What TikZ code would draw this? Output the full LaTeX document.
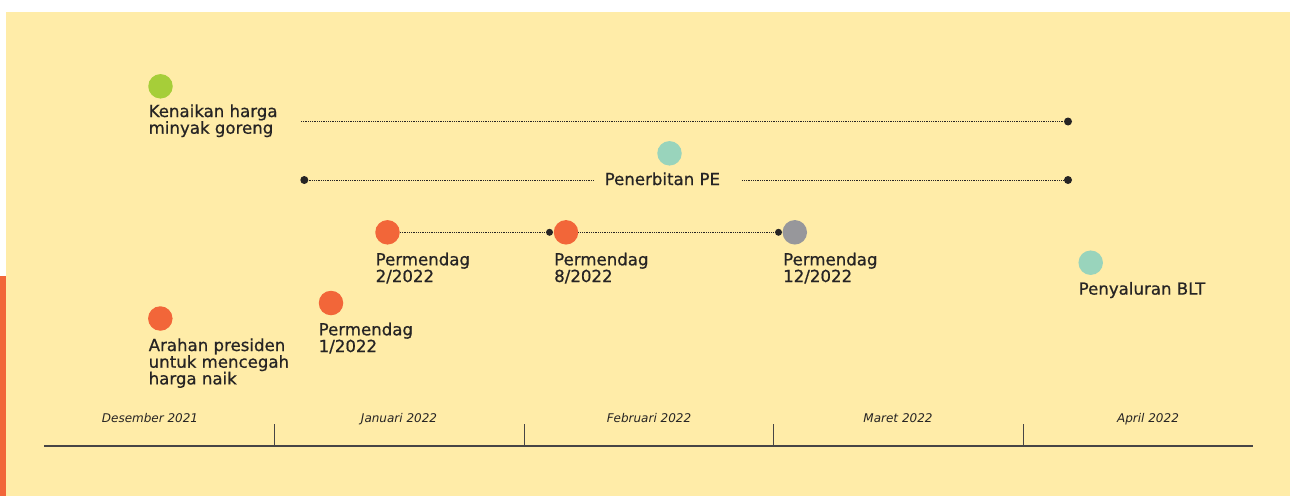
\documentclass[tikz,border=0pt]{standalone}
\usepackage{fontspec}
\setmainfont{DejaVu Sans}
\newfontfamily\medfont[FakeBold=0.7]{DejaVu Sans}
\definecolor{bgyellow}{RGB}{255,236,168}
\definecolor{accorange}{RGB}{242,102,57}
\definecolor{accgreen}{RGB}{166,206,57}
\definecolor{accteal}{RGB}{153,212,188}
\definecolor{accgrey}{RGB}{151,151,155}
\definecolor{ink}{RGB}{38,36,36}
\begin{document}
\begin{tikzpicture}[x=1pt,y=-1pt,
  evdot/.style={circle, fill=#1, minimum size=24.5pt, inner sep=0pt},
  endpt/.style={circle, fill=ink, minimum size=#1, inner sep=0pt},
  endpt/.default=8pt,
  lbl/.style={anchor=north west, inner sep=0pt, align=left, text=ink,
              font=\medfont\fontsize{16.6}{16.7}\selectfont},
  month/.style={anchor=base, inner sep=0pt, text=ink,
              font=\fontsize{12}{14}\selectfont\itshape},
  conn/.style={draw=ink, line width=0.8pt, dash pattern=on 0.9pt off 0.9pt},
  axis/.style={draw=ink!85, line width=1.1pt}]
\useasboundingbox (0,0) rectangle (1290,496);
\fill[white] (0,0) rectangle (1290,496);
\fill[bgyellow] (6,12) rectangle (1290,496);
\fill[accorange] (0,276) rectangle (6,496);

% events
\node[evdot=accgreen] (kg) at (160.5,86.3) {};
\node[lbl] (kgt) at (148.5,104.2) {Kenaikan harga\\minyak goreng};

\node[evdot=accteal] (pe) at (669.5,153.3) {};
\node[anchor=base west, inner sep=0pt, text=ink, font=\medfont\fontsize{16.6}{16.7}\selectfont] (pet) at (604.5,185) {Penerbitan PE};

\node[evdot=accorange] (p2) at (387.5,232.3) {};
\node[lbl] (p2t) at (375.5,252.5) {Permendag\\2/2022};
\node[evdot=accorange] (p8) at (566,232.3) {};
\node[lbl] (p8t) at (554,252.5) {Permendag\\8/2022};
\node[evdot=accgrey] (p12) at (794.8,232.3) {};
\node[lbl] (p12t) at (783,252.5) {Permendag\\12/2022};

\node[evdot=accteal] (blt) at (1090.7,262.7) {};
\node[lbl] (bltt) at (1078.5,281.8) {Penyaluran BLT};

\node[evdot=accorange] (p1) at (331,303) {};
\node[lbl] (p1t) at (318.5,322.5) {Permendag\\1/2022};

\node[evdot=accorange] (ap) at (160.3,318.5) {};
\node[lbl] (apt) at (148.5,338.2) {Arahan presiden\\untuk mencegah\\harga naik};

% range lines
\coordinate (l1s) at (301,121.5);
\node[endpt] (l1e) at (1068,121.5) {};
\draw[conn] (l1s) -- (l1e);

\node[endpt] (l2s) at (304.3,180) {};
\node[endpt] (l2e) at (1068,180) {};
\draw[conn] (l2s) -- ([xshift=-10pt]pet.west |- l2s);
\draw[conn] ([xshift=22pt]pet.east |- l2e) -- (l2e);

\node[endpt=7pt] (s1) at (549.5,232.3) {};
\node[endpt=7pt] (s2) at (778.5,232.3) {};
\draw[conn] (p2) -- (s1);
\draw[conn] (p8) -- (s2);

% time axis
\coordinate (ax0) at (44,446);
\coordinate (ax1) at (1253,446);
\draw[axis] (ax0) -- (ax1);
\foreach \x/\n in {274/t1, 524/t2, 773.5/t3, 1023/t4}{
  \coordinate (\n) at (\x,446);
  \draw[axis, line width=0.9pt] (\n) -- ++(0,-22);
}
\node[month] (m1) at (150,422.3) {Desember 2021};
\node[month] (m2) at (399,422.3) {Januari 2022};
\node[month] (m3) at (649,422.3) {Februari 2022};
\node[month] (m4) at (898,422.3) {Maret 2022};
\node[month] (m5) at (1148,422.3) {April 2022};
\end{tikzpicture}
\end{document}
